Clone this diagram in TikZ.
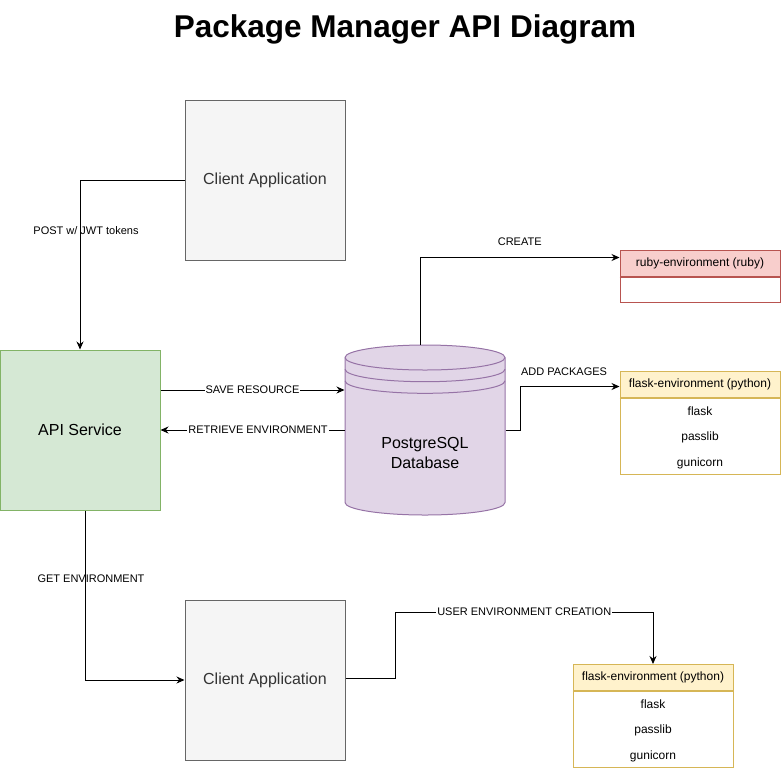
\documentclass[tikz,border=0pt]{standalone}
\usepackage{fontspec}
\setmainfont{Liberation Sans}
\usetikzlibrary{arrows.meta,positioning}
\usepackage{xcolor}
\definecolor{clientfill}{HTML}{F5F5F5}
\definecolor{clientline}{HTML}{666666}
\definecolor{clienttext}{HTML}{333333}
\definecolor{apifill}{HTML}{D5E8D4}
\definecolor{apiline}{HTML}{82B366}
\definecolor{dbfill}{HTML}{E1D5E7}
\definecolor{dbline}{HTML}{9673A6}
\definecolor{rubyfill}{HTML}{F8CECC}
\definecolor{rubyline}{HTML}{B85450}
\definecolor{flaskfill}{HTML}{FFF2CC}
\definecolor{flaskline}{HTML}{D6B656}

\tikzset{
  bigbox/.style={draw, line width=1pt, minimum width=160, minimum height=160,
    font=\fontsize{16}{19}\selectfont},
  envhead/.style={draw, line width=1pt, minimum width=160, minimum height=26,
    inner sep=0pt, font=\fontsize{12}{14}\selectfont},
  envbody/.style={draw, line width=1pt, fill=white, minimum width=160, inner sep=0pt},
  envrow/.style={minimum height=26, inner sep=0pt, font=\fontsize{12}{14}\selectfont},
  lbl/.style={fill=white, inner sep=1pt, font=\fontsize{11}{13}\selectfont},
  freelbl/.style={inner sep=1pt, font=\fontsize{11}{13}\selectfont},
}

% name, x, top y, colour, title, body height, rows
\newcommand{\envTable}[7]{%
  \node[envhead, fill=#4fill, draw=#4line, anchor=north] (#1) at (#2, #3) {#5};
  \node[envbody, draw=#4line, minimum height=#6, below=-1pt of #1] (#1-body) {};
  \draw[#4line, line width=1pt] (#1.south west) -- (#1.south east);
  \foreach \row [count=\i] in {#7} {
    \node[envrow] (#1-\i) at ([yshift={13-26*\i}]#1.south) {\row};
  }%
}

\begin{document}
\begin{tikzpicture}[x=1pt, y=-1pt, >={Stealth[length=8pt,width=7pt]}, line width=1pt]
  \useasboundingbox (0,0) rectangle (781,772);

  \node[font=\fontsize{31.5}{36}\selectfont\bfseries] (title) at (405,29)
    {Package Manager API Diagram};

  % boxes
  \node[bigbox, fill=clientfill, draw=clientline, text=clienttext] (client) at (265,180) {Client Application};
  \node[bigbox, fill=apifill, draw=apiline] (api) at (80,430) {API Service};
  \node[bigbox, fill=clientfill, draw=clientline, text=clienttext] (client2) at (265,680) {Client Application};

  % database
  \node[minimum width=160, minimum height=170, inner sep=0pt] (db) at (425,430) {};
  \filldraw[fill=dbfill, draw=dbline] (345,357.5) -- (345,502.5)
    arc[start angle=180, end angle=0, x radius=80, y radius=12.5] -- (505,357.5)
    arc[start angle=0, end angle=-180, x radius=80, y radius=12.5] -- cycle;
  \foreach \y in {357.5, 369.2, 380.8}
    \draw[dbline] (345,\y) arc[start angle=180, end angle=0, x radius=80, y radius=12.5];
  \node[align=center, font=\fontsize{16}{20}\selectfont] (dbtext) at (425,453) {PostgreSQL\\Database};

  % environments
  \envTable{ruby}{700}{250}{ruby}{ruby-environment (ruby)}{26}{}
  \envTable{flask}{700}{371}{flask}{flask-environment (python)}{77}{flask,passlib,gunicorn}
  \envTable{flasktwo}{653}{664}{flask}{flask-environment (python)}{77}{flask,passlib,gunicorn}

  % Connect the boxes
  \draw[->] (client.west) -| node[freelbl, pos=0.65, xshift=6] {POST w/ JWT tokens} (api.north);
  \draw[->] ([yshift=40]api.east) -- node[lbl] {SAVE RESOURCE} ([yshift=40]db.west);
  \draw[->] (db.west) -- node[lbl, pos=0.47] {RETRIEVE ENVIRONMENT} (api.east);
  \draw[->] ([xshift=-5]db.north) |- node[freelbl, pos=0.75, above=10pt] {CREATE} ([yshift=6]ruby.west);
  \draw[->] (db.east) -- ++(15,0) |- node[freelbl, pos=0.72, above=9pt] {ADD PACKAGES} ([yshift=-2]flask.west);
  \draw[->] ([xshift=5]api.south) |- node[freelbl, pos=0.2, xshift=6] {GET ENVIRONMENT} (client2.west);
  \draw[->] ([yshift=2]client2.east) -- ++(50,0) -- ++(0,-66) -| node[lbl, pos=0.25] {USER ENVIRONMENT CREATION} (flasktwo.north);
\end{tikzpicture}
\end{document}
